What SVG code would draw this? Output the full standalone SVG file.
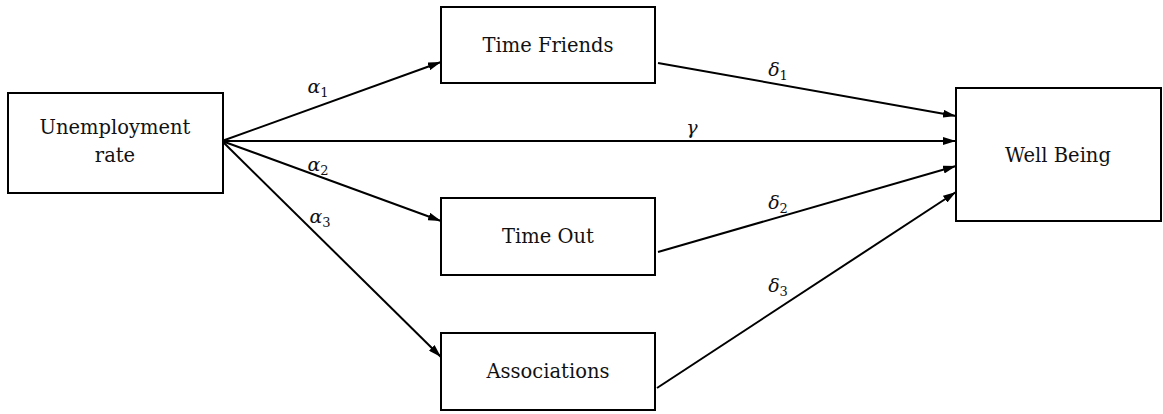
<svg xmlns="http://www.w3.org/2000/svg" width="1163" height="414" viewBox="0 0 1163 414">
<style>
.box{fill:#fff;stroke:#000;stroke-width:2}
.lbl{font-family:"DejaVu Serif",serif;font-size:19.5px;fill:#111;text-anchor:middle}
.edge{stroke:#000;stroke-width:2;fill:none;marker-end:url(#ah)}
.gk{font-family:"DejaVu Serif",serif;font-size:19px;font-style:italic;fill:#111;text-anchor:middle}
.sub{font-size:13px;font-style:normal}
</style>
<defs>
<marker id="ah" viewBox="0 0 13 8" refX="13" refY="4" markerWidth="13" markerHeight="8" markerUnits="userSpaceOnUse" orient="auto">
<path d="M0,0 L13,4 L0,8 Z" fill="#000"/>
</marker>
</defs>
<g id="connectors">
<line class="edge" x1="222" y1="141" x2="441" y2="62"/>
<line class="edge" x1="222" y1="141" x2="956" y2="141"/>
<line class="edge" x1="222" y1="141" x2="441" y2="221"/>
<line class="edge" x1="222" y1="141" x2="441" y2="357"/>
<line class="edge" x1="658" y1="63" x2="956" y2="116"/>
<line class="edge" x1="658" y1="252" x2="956" y2="166"/>
<line class="edge" x1="657" y1="388" x2="956" y2="192"/>
<text class="gk" x="318" y="93">α<tspan class="sub" dy="4">1</tspan></text>
<text class="gk" x="692" y="134">γ</text>
<text class="gk" x="318" y="171">α<tspan class="sub" dy="4">2</tspan></text>
<text class="gk" x="320" y="223">α<tspan class="sub" dy="4">3</tspan></text>
<text class="gk" x="778" y="76">δ<tspan class="sub" dy="4">1</tspan></text>
<text class="gk" x="778" y="209">δ<tspan class="sub" dy="4">2</tspan></text>
<text class="gk" x="778" y="292">δ<tspan class="sub" dy="4">3</tspan></text>
</g>
<g id="unemployment">
<rect class="box" x="8" y="93" width="215" height="100"/>
<text class="lbl" x="115" y="134">Unemployment</text>
<text class="lbl" x="115" y="162">rate</text>
</g>
<g id="time-friends">
<rect class="box" x="441" y="7" width="214" height="76"/>
<text class="lbl" x="548" y="52">Time Friends</text>
</g>
<g id="time-out">
<rect class="box" x="441" y="198" width="214" height="77"/>
<text class="lbl" x="548" y="243">Time Out</text>
</g>
<g id="associations">
<rect class="box" x="441" y="333" width="214" height="77"/>
<text class="lbl" x="548" y="378">Associations</text>
</g>
<g id="well-being">
<rect class="box" x="956" y="88" width="205" height="133"/>
<text class="lbl" x="1058" y="162">Well Being</text>
</g>
</svg>
